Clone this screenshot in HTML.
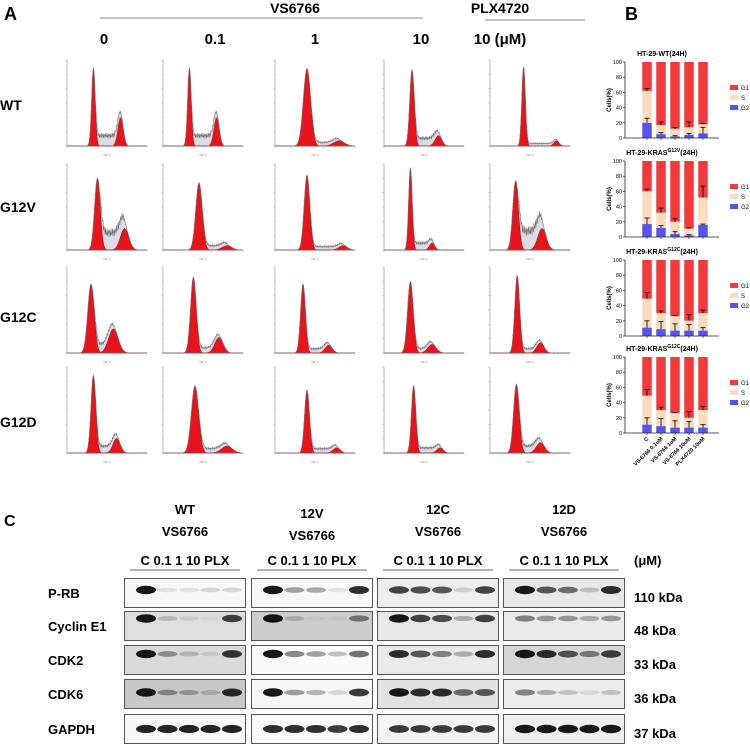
<!DOCTYPE html>
<html><head><meta charset="utf-8"><style>
html,body{margin:0;padding:0;background:#fff;}
svg{display:block;font-family:"Liberation Sans",Arial,sans-serif;}
.b{font-weight:bold;}
.n{font-family:"Liberation Sans Narrow","Liberation Sans",Arial,sans-serif;font-weight:bold;}
</style></head><body>
<svg id="fig" width="750" height="744" viewBox="0 0 750 744">
<g>
<text x="4" y="20" font-size="18" class="b">A</text>
<text x="295" y="13" font-size="14" class="b" text-anchor="middle">VS6766</text>
<line x1="100" y1="18" x2="423" y2="18" stroke="#888" stroke-width="1"/>
<text x="500" y="13" font-size="14" class="b" text-anchor="middle">PLX4720</text>
<line x1="485" y1="20" x2="585" y2="20" stroke="#888" stroke-width="1"/>
<text x="104" y="44" font-size="15" class="b" text-anchor="middle">0</text>
<text x="215" y="44" font-size="15" class="b" text-anchor="middle">0.1</text>
<text x="315" y="44" font-size="15" class="b" text-anchor="middle">1</text>
<text x="421" y="44" font-size="15" class="b" text-anchor="middle">10</text>
<text x="500" y="44" font-size="15" class="b" text-anchor="middle">10 (μM)</text>
<text x="0" y="110" font-size="14" class="b">WT</text>
<text x="0" y="212" font-size="14" class="b">G12V</text>
<text x="0" y="322" font-size="14" class="b">G12C</text>
<text x="0" y="427" font-size="14" class="b">G12D</text>
</g>
<g id="hist"></g>
<text x="625" y="20" font-size="18" class="b">B</text>
<g id="bars"></g>
<text x="4" y="526" font-size="16" class="b">C</text>
<g id="blots"></g>
</svg>
<script>
const NS="http://www.w3.org/2000/svg";
function mk(tag,attrs,parent){const e=document.createElementNS(NS,tag);for(const k in attrs)e.setAttribute(k,attrs[k]);parent.appendChild(e);return e;}

// ---------- Panel A histogram data (rows WT,G12V,G12C,G12D; cols 0,0.1,1,10,PLX) ----------
const g1Pos=[[0.33,0.33,0.40,0.35,0.42],[0.38,0.45,0.40,0.33,0.32],[0.30,0.38,0.35,0.33,0.34],[0.33,0.40,0.40,0.37,0.33]];
const g1Height=[[0.90,0.90,0.90,0.88,0.92],[0.83,0.78,0.87,0.95,0.80],[0.80,0.88,0.80,0.83,0.90],[0.90,0.78,0.73,0.78,0.80]];
const g1Width=[[0.022,0.022,0.045,0.028,0.022],[0.035,0.04,0.035,0.022,0.035],[0.04,0.035,0.03,0.035,0.03],[0.03,0.045,0.03,0.027,0.035]];
const g2Pos=[[0.67,0.67,0.80,0.68,0.83],[0.72,0.80,0.85,0.60,0.65],[0.58,0.70,0.67,0.60,0.63],[0.62,0.80,0.77,0.70,0.63]];
const g2Height=[[0.33,0.33,0.06,0.12,0.06],[0.25,0.05,0.05,0.08,0.25],[0.28,0.18,0.09,0.10,0.12],[0.17,0.08,0.06,0.06,0.12]];
const sHeight=[[0.12,0.12,0.04,0.09,0.03],[0.2,0.05,0.04,0.08,0.22],[0.09,0.06,0.05,0.05,0.05],[0.08,0.05,0.05,0.06,0.08]];
const colX=[67,163,275,384,490];
const rowY=[60,164,267,367];
const HW=80,HH=86;
const hist=document.getElementById('hist');
function gauss(x,m,s){return Math.exp(-0.5*((x-m)/s)**2);}
for(let r=0;r<4;r++)for(let c=0;c<5;c++){
  const g=mk('g',{},hist);
  
  
  const x0=colX[c],y0=rowY[r],yb=y0+HH;
  const X=t=>x0+t*HW, Y=v=>yb-v*HH;
  const p1=g1Pos[r][c],h1=g1Height[r][c],w1=g1Width[r][c],p2=g2Pos[r][c],h2=g2Height[r][c],w2=w1*1.5,sh=sHeight[r][c];
  const N=160;
  const sv=t=>{const a=1/(1+Math.exp(-(t-p1-w1)/0.01)),b=1/(1+Math.exp((t-p2)/0.015));return sh*a*b;};
  let pts=[];
  for(let i=0;i<=N;i++){const t=i/N;const a=h1*gauss(t,p1,w1),b=h2*gauss(t,p2,w2),s=sv(t);pts.push([t,a,b,s]);}
  const red1='M'+X(0)+','+yb+pts.map(p=>'L'+X(p[0]).toFixed(1)+','+Y(p[1]).toFixed(1)).join('')+'L'+X(1)+','+yb+'Z';
  const red2='M'+X(0)+','+yb+pts.map(p=>'L'+X(p[0]).toFixed(1)+','+Y(p[2]).toFixed(1)).join('')+'L'+X(1)+','+yb+'Z';
  const sreg='M'+X(0)+','+yb+pts.map(p=>'L'+X(p[0]).toFixed(1)+','+Y(p[1]+p[2]+p[3]).toFixed(1)).join('')+'L'+X(1)+','+yb+'Z';
  const tot='M'+pts.map((p,i)=>(i?'L':'')+X(p[0]).toFixed(1)+','+Y(p[1]+p[2]+p[3]+0.25*p[3]*Math.sin(i*2.3)).toFixed(1)).join('');
  mk('path',{d:sreg,fill:'#dcdce8',stroke:'none'},g);
  mk('path',{d:red1,fill:'#e8141c',stroke:'#7a0000','stroke-width':0.4},g);
  mk('path',{d:red2,fill:'#e8141c',stroke:'#7a0000','stroke-width':0.4},g);
  mk('path',{d:tot,fill:'none',stroke:'#777','stroke-width':0.6},g);
  mk('line',{x1:x0,y1:y0,x2:x0,y2:yb,stroke:'#888','stroke-width':0.6},g);
  mk('line',{x1:x0,y1:yb,x2:x0+HW,y2:yb,stroke:'#888','stroke-width':0.6},g);
  for(let k=0;k<=20;k++)mk('line',{x1:x0+k*HW/20,y1:yb,x2:x0+k*HW/20,y2:yb+(k%4?1:2),stroke:'#999','stroke-width':0.4},g);
  for(let k=0;k<=12;k++)mk('line',{x1:x0,y1:y0+k*HH/12,x2:x0-(k%2?1:2),y2:y0+k*HH/12,stroke:'#999','stroke-width':0.4},g);
  const lab=mk('text',{x:x0+HW/2,y:yb+10,'font-size':3,'text-anchor':'middle',fill:'#888'},g);lab.textContent='PE-A';
}

// ---------- Panel B bar data ----------
const barCats=['C','VS-6766 0.1uM','VS-6766 1uM','VS-6766 10uM','PLX4720 10uM'];
const chartTitles=['HT-29-WT','HT-29-KRAS','HT-29-KRAS','HT-29-KRAS'];
const chartSup=['','G12V','G12C','G12C'];
const g2Vals=[[20,5,2,4,6],[17,12,4,2,16],[11,9,7,7,7],[11,9,7,7,7]];
const sVals=[[42,12,10,10,12],[43,20,16,9,36],[38,21,19,13,23],[38,21,19,13,23]];
const g2Err=[[6,2,1,2,8],[8,3,3,1,1],[9,10,9,8,4],[9,10,9,8,4]];
const sErr=[[3,4,2,7,1],[3,6,4,1,15],[8,3,1,8,4],[8,4,1,8,5]];
const yTicks=[0,20,40,60,80,100];
const chartTop=[62,161,260,357];
const bars=document.getElementById('bars');
const PH=76,bx0=625;
for(let k=0;k<4;k++){
  const g=mk('g',{},bars);
  
  
  const top=chartTop[k],bot=top+PH;const Y=v=>bot-v/100*PH;const Xc=i=>bx0+22+i*14;
  const t=mk('text',{x:662,y:top-6,'font-size':7,'text-anchor':'middle',class:'b'},g);
  t.textContent=chartTitles[k];
  if(chartSup[k]){const s=mk('tspan',{'font-size':5,dy:-3},t);s.textContent=chartSup[k];const s2=mk('tspan',{'font-size':7,dy:3},t);s2.textContent='(24H)';}else{const s2=mk('tspan',{},t);s2.textContent='(24H)';}
  const yl=mk('text',{x:0,y:0,'font-size':6,class:'b','text-anchor':'middle',transform:`translate(${bx0-14},${(top+bot)/2}) rotate(-90)`},g);yl.textContent='Cells(%)';
  yTicks.forEach(v=>{mk('line',{x1:bx0-2,y1:Y(v),x2:bx0,y2:Y(v),stroke:'#222','stroke-width':0.7},g);const tt=mk('text',{x:bx0-3,y:Y(v)+2,'font-size':5.5,'text-anchor':'end'},g);tt.textContent=v;});
  for(let i=0;i<5;i++){
    const x=Xc(i)-4.75,w=9.5,a=g2Vals[k][i],b=a+sVals[k][i];
    const r1=mk('rect',{x:x,y:Y(100),width:w,height:Y(b)-Y(100),fill:'#f23a3a'},g);
    const r2=mk('rect',{x:x,y:Y(b),width:w,height:Y(a)-Y(b),fill:'#fcdcbd'},g);
    const r3=mk('rect',{x:x,y:Y(a),width:w,height:Y(0)-Y(a),fill:'#5555ee'},g);
    [[b,sErr[k][i]],[a,g2Err[k][i]]].forEach(([v,e])=>{mk('line',{x1:Xc(i),y1:Y(v),x2:Xc(i),y2:Y(v+e),stroke:'#111','stroke-width':0.9},g);mk('line',{x1:Xc(i)-2.5,y1:Y(v+e),x2:Xc(i)+2.5,y2:Y(v+e),stroke:'#111','stroke-width':0.9},g);});
    mk('line',{x1:Xc(i),y1:bot,x2:Xc(i),y2:bot+2,stroke:'#222','stroke-width':0.7},g);
  }
  mk('line',{x1:bx0,y1:top,x2:bx0,y2:bot,stroke:'#222','stroke-width':0.8},g);
  mk('line',{x1:bx0,y1:bot,x2:bx0+94,y2:bot,stroke:'#222','stroke-width':0.8},g);
  [['G1','#f23a3a'],['S','#fcdcbd'],['G2','#5555ee']].forEach((l,j)=>{const ly=top+26+j*10;mk('rect',{x:730,y:ly-3,width:8,height:5,fill:l[1]},g);const tt=mk('text',{x:741,y:ly+2,'font-size':6},g);tt.textContent=l[0];});
  if(k===3){barCats.forEach((c,i)=>{const tt=mk('text',{x:0,y:0,'font-size':5.5,'text-anchor':'end',class:'b',transform:`translate(${Xc(i)+2},${bot+6}) rotate(-45)`},g);tt.textContent=c;});}
}

// ---------- Panel C blots ----------
const groups=['WT','12V','12C','12D'];
const proteins=['P-RB','Cyclin E1','CDK2','CDK6','GAPDH'];
const kda=['110 kDa','48 kDa','33 kDa','36 kDa','37 kDa'];
const intensity=[
 [[1,0.1,0.1,0.15,0.15],[1,0.2,0.1,0.05,0.8],[1,0.4,0.2,0.1,0.85],[1,0.4,0.3,0.2,0.9],[0.95,0.95,0.95,0.95,0.95]],
 [[1,0.4,0.35,0.1,0.9],[1,0.2,0.05,0.05,0.5],[1,0.5,0.4,0.25,0.6],[1,0.4,0.3,0.15,0.85],[0.9,0.9,0.9,0.85,0.9]],
 [[0.8,0.75,0.7,0.15,0.8],[1,0.8,0.75,0.3,0.8],[0.9,0.7,0.5,0.3,0.9],[1,0.9,0.9,0.6,0.7],[0.85,0.85,0.85,0.85,0.85]],
 [[1,0.7,0.6,0.2,0.9],[0.5,0.4,0.4,0.3,0.4],[1,0.9,0.7,0.5,0.8],[0.5,0.3,0.2,0.1,0.2],[1,1,1,1,1]]];
const bgShade=[[248,222,218,200,248],[248,205,250,246,250],[238,232,234,226,244],[232,234,214,236,240]];
const bandY=[0.4,0.25,0.3,0.45,0.5];
const panelX=[124,251,377,503],rowTop=[578,611,645,679,714],PW=122,RH=30;
const blots=document.getElementById('blots');
proteins.forEach((p,r)=>{const t=mk('text',{x:48,y:rowTop[r]+20,'font-size':13,class:'n'},blots);t.textContent=p;
 const kk=mk('text',{x:634,y:rowTop[r]+24,'font-size':13,class:'n'},blots);kk.textContent=kda[r];});
groups.forEach((gname,gi)=>{
  const px=panelX[gi];const cx=px+PW/2;const dy=gi===1?4:0;
  const h1=mk('text',{x:cx,y:514+dy,'font-size':13,class:'n','text-anchor':'middle'},blots);h1.textContent=gname;
  const h2=mk('text',{x:cx,y:536+dy,'font-size':13,class:'n','text-anchor':'middle'},blots);h2.textContent='VS6766';
  const ll=mk('text',{x:cx,y:565,'font-size':13,class:'n','text-anchor':'middle'},blots);ll.textContent='C 0.1 1 10 PLX';
  mk('line',{x1:cx-55,y1:570,x2:cx+55,y2:570,stroke:'#333','stroke-width':0.8},blots);
  proteins.forEach((p,r)=>{
    const g=mk('g',{},blots);
    const s=bgShade[gi][r];
    mk('rect',{x:px+0.5,y:rowTop[r]+0.5,width:PW-1,height:RH-1,fill:`rgb(${s},${s},${s})`,stroke:'#555','stroke-width':1},g);
    intensity[gi][r].forEach((v,i)=>{const bx=px+22+i*21.5;const by=rowTop[r]+RH*bandY[r];const c=Math.round(s*(1-v*0.95));
      const b=mk('ellipse',{cx:bx,cy:by,rx:10,ry:2+2.2*v,fill:`rgb(${c},${c},${c})`,opacity:0.95},g);});
  });
});
const um=mk('text',{x:634,y:565,'font-size':13,class:'n'},blots);um.textContent='(μM)';
</script>
</body></html>
